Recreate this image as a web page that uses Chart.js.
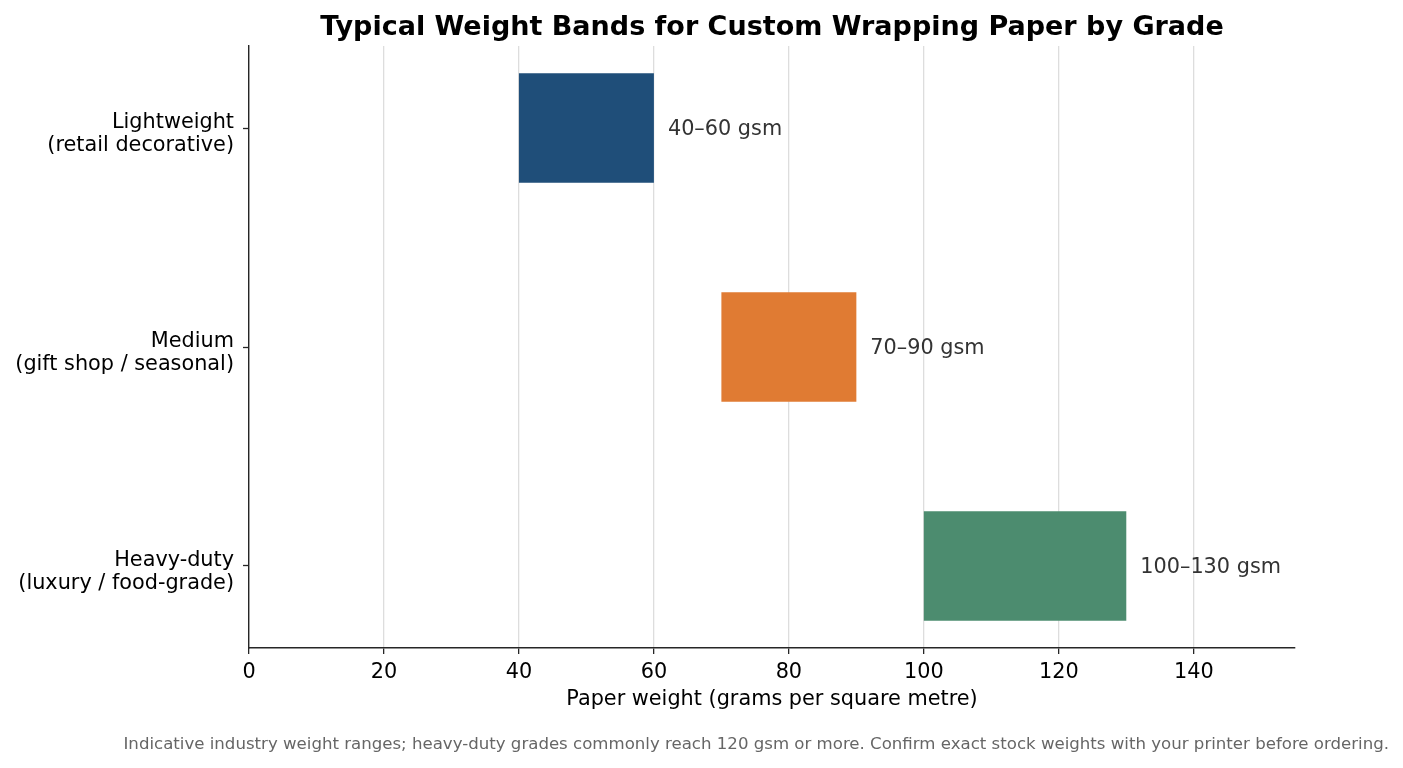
<!DOCTYPE html>
<html><head><meta charset="utf-8">
<script src="https://cdn.jsdelivr.net/npm/chart.js@4"></script>
<style>html,body{margin:0;padding:0;background:#fff}#wrap{width:1403px;height:768px}</style>
</head><body><div id="wrap"><canvas id="c" width="1403" height="768"></canvas></div>
<script>
const grades = ["Lightweight", "Medium", "Heavy-duty"];
const gradeUses = ["(retail decorative)", "(gift shop / seasonal)", "(luxury / food-grade)"];
const minGsm = [40, 70, 100];
const maxGsm = [60, 90, 130];
const bandLabels = ["40–60 gsm", "70–90 gsm", "100–130 gsm"];
const barColors = ["#1F4E79", "#E07B33", "#4C8C6F"];
const xTicks = [0, 20, 40, 60, 80, 100, 120, 140];
const xMax = 155;
const titleText = "Typical Weight Bands for Custom Wrapping Paper by Grade";
const xTitle = "Paper weight (grams per square metre)";
const footnote = "Indicative industry weight ranges; heavy-duty grades commonly reach 120 gsm or more. Confirm exact stock weights with your printer before ordering.";
const FONT = "'DejaVu Sans', sans-serif";
const AXIS = "#262626";
const FS = 20.8;

Chart.defaults.font.family = FONT;

const barData = grades.map((g, i) => ({ x: [minGsm[i], maxGsm[i]], y: i }));

const barLabelPlugin = {
  id: 'barLabels',
  afterDatasetsDraw(chart) {
    const ctx = chart.ctx;
    const meta = chart.getDatasetMeta(0);
    ctx.save();
    ctx.font = FS + "px " + FONT;
    ctx.fillStyle = "#333333";
    ctx.textAlign = "left";
    ctx.textBaseline = "middle";
    meta.data.forEach((bar, i) => {
      const end = Math.max(bar.x, bar.base);
      ctx.fillText(bandLabels[i], end + 14, bar.y + 2);
    });
    ctx.restore();
  }
};

const textPlugin = {
  id: 'texts',
  afterDraw(chart) {
    const ctx = chart.ctx;
    const ca = chart.chartArea;
    ctx.save();
    ctx.font = "bold 27px " + FONT;
    ctx.fillStyle = "#000000";
    ctx.textAlign = "center";
    ctx.textBaseline = "alphabetic";
    ctx.fillText(titleText, (ca.left + ca.right) / 2, 35);
    ctx.font = "16.6px " + FONT;
    ctx.fillStyle = "#666666";
    ctx.textAlign = "right";
    ctx.fillText(footnote, 1389, 749);
    ctx.restore();
  }
};

new Chart(document.getElementById('c'), {
  type: 'bar',
  data: {
    datasets: [{
      data: barData,
      backgroundColor: barColors,
      borderWidth: 0,
      categoryPercentage: 1,
      barPercentage: 0.5
    }]
  },
  options: {
    indexAxis: 'y',
    responsive: false,
    animation: false,
    devicePixelRatio: 1,
    layout: { padding: { left: 0, right: 108, top: 46, bottom: 0 } },
    plugins: { legend: { display: false }, tooltip: { enabled: false }, title: { display: false } },
    scales: {
      y: {
        type: 'linear',
        min: -0.375,
        max: 2.375,
        reverse: true,
        offset: false,
        afterBuildTicks(scale) { scale.ticks = grades.map((g, i) => ({ value: i })); },
        afterFit(scale) { scale.width = 249; },
        ticks: {
          callback: (v) => [grades[v], gradeUses[v]],
          font: { size: FS, lineHeight: 1.12 },
          color: "#000000",
          padding: 9,
          labelOffset: 6
        },
        grid: { display: true, offset: false, drawOnChartArea: false, drawTicks: true, tickLength: 6, tickColor: AXIS, tickWidth: 1.3 },
        border: { display: true, color: AXIS, width: 1.4 }
      },
      x: {
        type: 'linear',
        min: 0,
        max: xMax,
        offset: false,
        afterBuildTicks(scale) { scale.ticks = xTicks.map(v => ({ value: v })); },
        afterFit(scale) { scale.height = 120; },
        ticks: { font: { size: FS }, color: "#000000", padding: 6, maxRotation: 0 },
        grid: { color: "#dddddd", lineWidth: 1.3, drawTicks: true, tickLength: 6, tickColor: AXIS, tickWidth: 1.3 },
        border: { display: true, color: AXIS, width: 1.4 },
        title: { display: true, text: xTitle, font: { size: FS }, color: "#000000", padding: { top: 4, bottom: 56 } }
      }
    }
  },
  plugins: [barLabelPlugin, textPlugin]
});
</script>
</body></html>
